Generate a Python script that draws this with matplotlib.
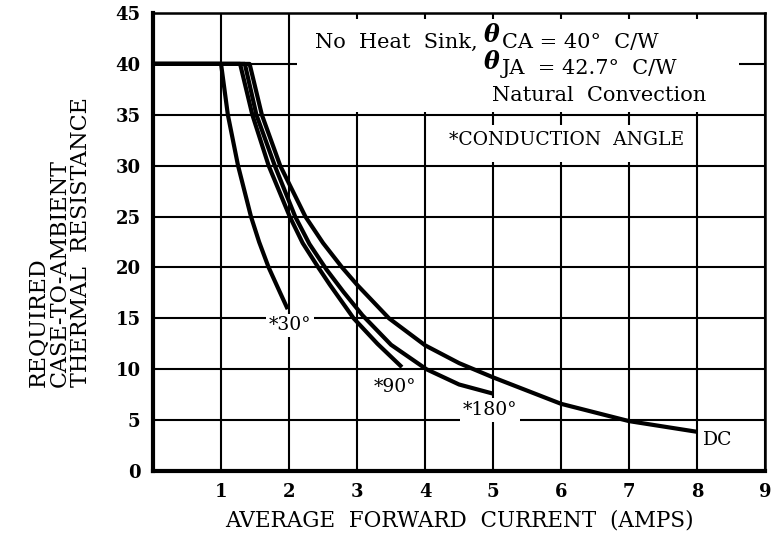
import matplotlib
matplotlib.use("Agg")
from matplotlib import pyplot as plt
from matplotlib.patches import Rectangle

plt.rcParams['font.family'] = ['DejaVu Serif']

# curves: average forward current (A) vs required theta CA (C/W)
amps_30 = [0, 1.00, 1.10, 1.25, 1.44, 1.56, 1.70, 1.87, 1.98]
res_30 = [40, 40, 35, 30, 25, 22.5, 20, 17.5, 15.9]

amps_90 = [0, 1.28, 1.46, 1.70, 2.01, 2.20, 2.43, 2.60, 2.95, 3.30, 3.66]
res_90 = [40, 40, 35, 30, 25, 22.4, 20, 18.3, 15, 12.5, 10.2]

amps_180 = [0, 1.35, 1.52, 1.79, 2.09, 2.30, 2.55, 2.80, 3.08, 3.50, 4.02, 4.50, 5.00]
res_180 = [40, 40, 35, 30, 25, 22.3, 19.8, 17.6, 15.3, 12.4, 10.0, 8.5, 7.6]

amps_dc = [0, 1.42, 1.60, 1.87, 2.24, 2.50, 2.78, 3.00, 3.47, 4.00, 4.50, 5.00, 6.00, 7.00, 8.00]
res_dc = [40, 40, 35, 30, 25, 22.4, 20, 18.3, 15, 12.35, 10.6, 9.2, 6.6, 4.9, 3.85]

curve_labels = ['*30°', '*90°', '*180°', 'DC']
label_pos = [(2.02, 14.3), (3.56, 8.3), (4.95, 6.0), (8.31, 3.0)]

x_ticks = list(range(1, 10))
y_ticks = list(range(0, 46, 5))

fig = plt.figure(figsize=(7.73, 5.36), dpi=100)
ax = fig.add_axes([0.198, 0.1213, 0.7917, 0.8544])

ax.set_xlim(0, 9)
ax.set_ylim(0, 45)
ax.set_xticks(x_ticks)
ax.set_yticks(y_ticks)
ax.tick_params(length=0, labelsize=13, pad=9)
for lab in ax.get_xticklabels() + ax.get_yticklabels():
    lab.set_fontweight('bold')

ax.set_axisbelow(True)
ax.grid(True, color='black', linewidth=1.5)
for side in ['left', 'bottom']:
    ax.spines[side].set_linewidth(3)
for side in ['top', 'right']:
    ax.spines[side].set_linewidth(1.8)

# white panels over the grid for the header and the note
ax.add_patch(Rectangle((2.12, 35.3), 6.5, 9.1, facecolor='white', edgecolor='none', zorder=1))
ax.add_patch(Rectangle((4.2, 30.4), 3.75, 3.6, facecolor='white', edgecolor='none', zorder=1))

for xs, ys in [(amps_30, res_30), (amps_90, res_90), (amps_180, res_180), (amps_dc, res_dc)]:
    ax.plot(xs, ys, color='black', linewidth=3, solid_capstyle='butt',
            solid_joinstyle='round', zorder=2)

for lab, (lx, ly) in zip(curve_labels, label_pos):
    ax.text(lx, ly, lab, ha='center', va='center', fontsize=13.5, zorder=3,
            bbox=dict(facecolor='white', edgecolor='none', pad=2))

# header block
hs = 15
ax.text(2.38, 42.1, 'No  Heat  Sink,', ha='left', va='center', fontsize=hs, zorder=3)
ax.text(4.86, 42.8, 'θ', ha='left', va='center', fontsize=hs + 2, fontweight='bold',
        fontstyle='italic', zorder=3)
ax.text(5.13, 42.1, 'CA = 40°  C/W', ha='left', va='center', fontsize=hs, zorder=3)
ax.text(4.86, 40.2, 'θ', ha='left', va='center', fontsize=hs + 2, fontweight='bold',
        fontstyle='italic', zorder=3)
ax.text(5.13, 39.5, 'JA  = 42.7°  C/W', ha='left', va='center', fontsize=hs, zorder=3)
ax.text(4.99, 36.9, 'Natural  Convection', ha='left', va='center', fontsize=hs, zorder=3)
ax.text(6.08, 32.5, '*CONDUCTION  ANGLE', ha='center', va='center', fontsize=13.5, zorder=3)

ax.set_xlabel('AVERAGE  FORWARD  CURRENT  (AMPS)', fontsize=15.5, labelpad=6)

fig.text(0.077, 0.278, 'REQUIRED\nCASE-TO-AMBIENT\nTHERMAL  RESISTANCE', rotation=90,
         ha='center', va='bottom', multialignment='left', fontsize=16, linespacing=0.95)

fig.savefig('out.png', dpi=100)
